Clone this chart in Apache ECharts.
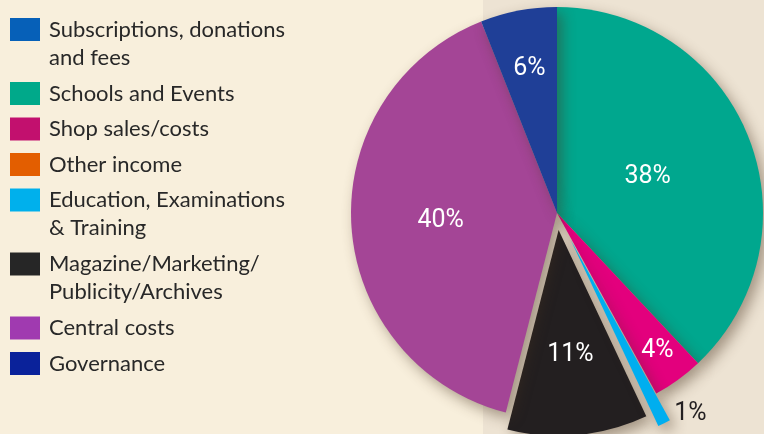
<!DOCTYPE html>
<html>
<head>
<meta charset="utf-8">
<script src="https://cdn.jsdelivr.net/npm/echarts@6/dist/echarts.min.js"></script>
<style>
  html, body { margin: 0; padding: 0; background: #f8efdc; }
  #chart { width: 764px; height: 434px; }
</style>
</head>
<body>
<div id="chart"></div>
<script>
// slice names, in the same order as the legend (and clockwise from 12 o'clock)
const names = [
  'Subscriptions, donations and fees',
  'Schools and Events',
  'Shop sales/costs',
  'Other income',
  'Education, Examinations & Training',
  'Magazine/Marketing/Publicity/Archives',
  'Central costs',
  'Governance',
]
// text as it wraps in the legend
const legendText = [
  'Subscriptions, donations\nand fees',
  'Schools and Events',
  'Shop sales/costs',
  'Other income',
  'Education, Examinations\n& Training',
  'Magazine/Marketing/\nPublicity/Archives',
  'Central costs',
  'Governance',
]
// percent shares
const values = [0, 38, 4, 0, 1, 11, 40, 6]

const pieColors = ['#0660b8', '#00a78e', '#e3007d', '#e35e00', '#00aeef', '#231f20', '#a44596', '#1f3f97']
const swatchColors = ['#0660b8', '#00a98a', '#c2106e', '#e35e00', '#00b0ec', '#262626', '#a03ab0', '#0a229a']

// pulled-out slices
const pulled = 'Magazine/Marketing/Publicity/Archives'
const pulledFar = 'Education, Examinations & Training'

// how far in/out each inside label sits, relative to the default half radius
const labelReach = [1, 0.92, 1.61, 1, 1, 1.18, 1.1, 1.39]

const cx = 557, cy = 213

const shadow = {
  shadowBlur: 14,
  shadowOffsetX: 5,
  shadowOffsetY: 6,
  shadowColor: 'rgba(70, 50, 30, 0.45)',
}

// legends: one component per entry so the swatch lines up with the first text line.
// a leading empty line keeps the first line centred on the swatch for wrapped entries
let legends = []
let y = 18
names.forEach((name, i) => {
  const two = legendText[i].indexOf('\n') > -1
  legends.push({
    left: 10,
    top: y - (two ? 30.5 : 2.5),
    padding: 0,
    orient: 'vertical',
    icon: 'rect',
    itemWidth: 30,
    itemHeight: 23,
    selectedMode: false,
    data: [{ name: name, itemStyle: { color: swatchColors[i] } }],
    formatter: () => (two ? '\n' : '') + legendText[i],
    textStyle: {
      fontFamily: 'Lato',
      fontSize: 22,
      color: '#282828',
      lineHeight: 28,
      padding: [0, 0, 0, 4],
    },
  })
  y += two ? 64 : 35.5
})

const mainData = names.map((name, i) => {
  const hidden = values[i] === 0 || name === pulledFar
  return {
    name: name,
    value: values[i],
    selected: name === pulled,
    itemStyle: hidden
      ? { color: 'rgba(0,0,0,0)', shadowBlur: 0 }
      : Object.assign({ color: pieColors[i] }, shadow),
    label: { show: !hidden },
  }
})

const farData = names.map((name, i) => {
  const shown = name === pulledFar
  return {
    name: name,
    value: values[i],
    selected: shown,
    itemStyle: shown
      ? Object.assign({ color: pieColors[i] }, shadow)
      : { color: 'rgba(0,0,0,0)', shadowBlur: 0 },
    label: { show: shown },
  }
})

const option = {
  animation: false,
  backgroundColor: '#f8efdc',
  graphic: [
    {
      type: 'rect',
      right: 0,
      top: 0,
      z: -10,
      silent: true,
      shape: { width: 281, height: 434 },
      style: { fill: '#ede3d3' },
    },
  ],
  legend: legends,
  series: [
    {
      type: 'pie',
      center: [cx, cy],
      radius: 206,
      startAngle: 90,
      clockwise: true,
      selectedMode: 'multiple',
      selectedOffset: 17,
      silent: true,
      minAngle: 0,
      itemStyle: { borderWidth: 0 },
      label: {
        position: 'inside',
        formatter: '{c}%',
        color: '#ffffff',
        fontFamily: 'Roboto, sans-serif',
        fontSize: 25,
      },
      labelLine: { show: false },
      labelLayout: function (p) {
        const k = labelReach[p.dataIndex]
        const lx = p.labelRect.x + p.labelRect.width / 2
        const ly = p.labelRect.y + p.labelRect.height / 2
        return { dx: (lx - cx) * (k - 1), dy: (ly - cy) * (k - 1) }
      },
      emphasis: { disabled: true },
      data: mainData,
    },
    {
      type: 'pie',
      center: [cx, cy],
      radius: 206,
      startAngle: 90,
      clockwise: true,
      selectedMode: 'multiple',
      selectedOffset: 30,
      silent: true,
      minAngle: 0,
      itemStyle: { borderWidth: 0 },
      label: {
        position: 'outside',
        formatter: '{c}%',
        color: '#231f20',
        fontFamily: 'Roboto, sans-serif',
        fontSize: 25,
      },
      labelLine: { show: false, length: 0, length2: 5 },
      // the small label sits a little above the end of its slice
      labelLayout: function () {
        return { dy: -10 }
      },
      emphasis: { disabled: true },
      data: farData,
    },
  ],
}

const chart = echarts.init(document.getElementById('chart'))
chart.setOption(option)
</script>
</body>
</html>
